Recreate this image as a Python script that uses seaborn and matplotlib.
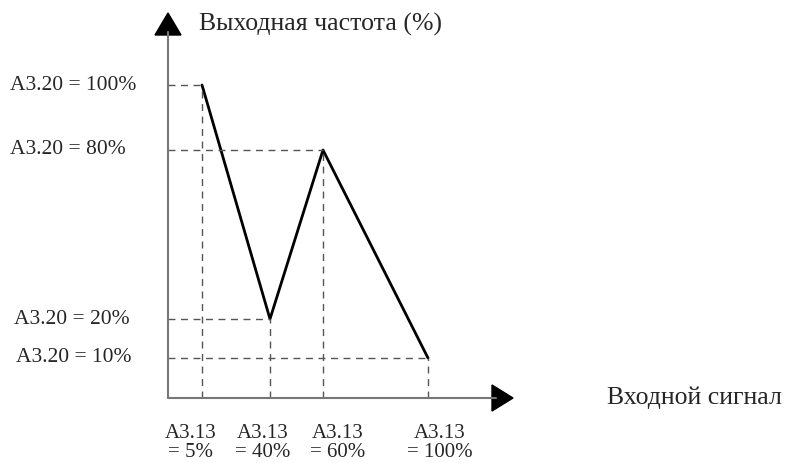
import numpy as np
import matplotlib
matplotlib.use("Agg")
import matplotlib.pyplot as plt
from matplotlib.patches import Polygon
import seaborn as sns

# data: input signal (A3.13) vs output frequency (A3.20), in %
x_in = [5, 40, 60, 100]
y_out = [100, 20, 80, 10]
x_labels = [f"A3.13\n= {v}%" for v in x_in]
y_labels = [f"A3.20 = {v}%" for v in y_out]

W, H = 789, 463

# schematic (non linear) axes: value -> pixel knots, origin included
x_knots = np.r_[0, np.sort(x_in)]
x_pix = [168, 202, 270, 323, 428]
y_knots = np.r_[0, np.sort(y_out)]
y_pix = [H - 398, H - 358, H - 319, H - 150, H - 85]


def piecewise(k, p):
    k = np.asarray(k, float)
    p = np.asarray(p, float)

    def f(a, b):
        s0 = (b[1] - b[0]) / (a[1] - a[0])
        s1 = (b[-1] - b[-2]) / (a[-1] - a[-2])

        def g(v):
            v = np.asarray(v, float)
            out = np.interp(v, a, b)
            out = np.where(v < a[0], b[0] + (v - a[0]) * s0, out)
            out = np.where(v > a[-1], b[-1] + (v - a[-1]) * s1, out)
            return out
        return g
    return f(k, p), f(p, k)


sns.set_theme(style="white")
plt.rcParams["font.family"] = ["Liberation Serif", "DejaVu Serif"]

fig = plt.figure(figsize=(W / 100, H / 100), dpi=100)
ax = fig.add_axes([0, 0, 1, 1])

fx, ix = piecewise(x_knots, x_pix)
fy, iy = piecewise(y_knots, y_pix)
ax.set_xscale("function", functions=(fx, ix))
ax.set_yscale("function", functions=(fy, iy))

# main curve
sns.lineplot(x=x_in, y=y_out, color="black", lw=2, ax=ax, sort=False)

# dashed guides
for xv, yv in zip(x_in, y_out):
    ax.plot([0, xv], [yv, yv], ls=(0, (5, 4)), color="#555555", lw=1)
    ax.plot([xv, xv], [0, yv], ls=(0, (5, 4)), color="#555555", lw=1)

ax.set_xlim(ix(0), ix(W))
ax.set_ylim(iy(0), iy(H))
ax.axis("off")


def P(px, py):
    return (px / W, 1 - py / H)


# axes with arrows
ax.plot(*zip(P(168, 398), P(496, 398)), transform=ax.transAxes, color="#777777", lw=1.5)
ax.plot(*zip(P(168, 398), P(168, 32)), transform=ax.transAxes, color="#777777", lw=1.5)
ax.add_patch(Polygon([P(168, 13), P(155, 35), P(181, 35)], closed=True,
                     color="black", transform=ax.transAxes))
ax.add_patch(Polygon([P(513, 398), P(492, 385), P(492, 411)], closed=True,
                     color="black", transform=ax.transAxes))

ax.text(*P(199, 24), "Выходная частота (%)", transform=ax.transAxes,
        ha="left", va="center", fontsize=18.5)
ax.text(*P(607, 398), "Входной сигнал", transform=ax.transAxes,
        ha="left", va="center", fontsize=18.5)

# y labels (same order as y_out)
y_lab_x = [10, 14, 10, 16]
for lab, yv, lx in zip(y_labels, y_out, y_lab_x):
    ax.text(lx / W, fy(yv) / H, lab, transform=ax.transAxes,
            ha="left", va="center", fontsize=15.5)

# x labels
x_lab_dx = [-11, -7, 15, 12]
for lab, xv, dx in zip(x_labels, x_in, x_lab_dx):
    ax.text((fx(xv) + dx) / W, 1 - 443 / H, lab, transform=ax.transAxes,
            ha="center", va="center", fontsize=15, linespacing=1.05,
            multialignment="center")

fig.savefig("out.png", dpi=100)
